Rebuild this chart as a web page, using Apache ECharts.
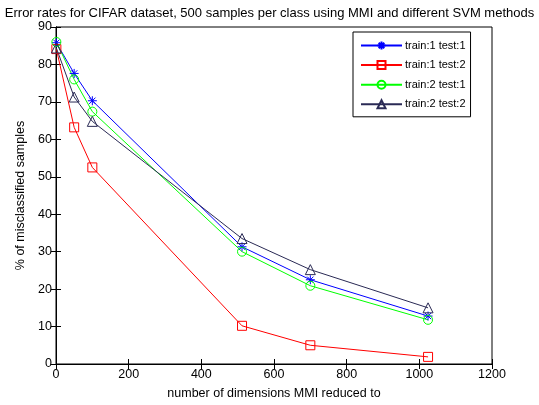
<!DOCTYPE html>
<html>
<head>
<meta charset="utf-8">
<script src="https://cdn.jsdelivr.net/npm/echarts@6/dist/echarts.min.js"></script>
<style>
  html, body { margin: 0; padding: 0; background: #fff; }
  #main { width: 539px; height: 405px; }
</style>
</head>
<body>
<div id="main"></div>
<script>
// dimensions after MMI reduction
const dims = [1, 50, 100, 512, 700, 1024]
// error rates (%)
const train1test1 = [85.8, 77.6, 70.3, 31.3, 22.5, 12.8]
const train1test2 = [84.1, 63.2, 52.5, 10.2, 5.0, 1.9]
const train2test1 = [86.0, 76.0, 67.4, 30.0, 20.9, 11.8]
const train2test2 = [84.4, 71.3, 64.8, 33.5, 25.2, 15.0]

const seriesNames = ['train:1 test:1', 'train:1 test:2', 'train:2 test:1', 'train:2 test:2']
const seriesColors = ['#0000ff', '#ff0000', '#00ff00', '#2a2a55']

// matlab style markers, outline only
const asterisk = 'path://M0,5L10,5M5,0L5,10M1.5,1.5L8.5,8.5M8.5,1.5L1.5,8.5'
const square = 'path://M0,0L10,0L10,10L0,10Z'
const circle = 'path://M10,5A5,5,0,1,1,0,5A5,5,0,1,1,10,5Z'
const triangle = 'path://M5,0L10,9L0,9Z'
const font = 'Liberation Sans, Arial, sans-serif'

function pairs(ys) {
  return dims.map((x, i) => [x, ys[i]])
}

function makeSeries(name, ys, color, symbol, size) {
  return {
    name: name,
    type: 'line',
    data: pairs(ys),
    symbol: symbol,
    symbolSize: size,
    showAllSymbol: true,
    lineStyle: { color: color, width: 1 },
    itemStyle: { color: 'rgba(0,0,0,0)', borderColor: color, borderWidth: 1 },
    emphasis: { disabled: true },
    z: 3
  }
}

const chart = echarts.init(document.getElementById('main'))

const tickStyle = {
  show: true,
  inside: true,
  length: 5,
  lineStyle: { color: '#000', width: 1 }
}

chart.setOption({
  animation: false,
  backgroundColor: '#fff',
  title: {
    text: 'Error rates for CIFAR dataset, 500 samples per class using MMI and different SVM methods',
    left: 'center',
    top: 2,
    textStyle: { fontFamily: font, fontSize: 13, fontWeight: 'normal', color: '#000' }
  },
  legend: {
    data: seriesNames,
    orient: 'vertical',
    left: 353,
    top: 32,
    itemWidth: 41,
    itemHeight: 10,
    itemGap: 8.6,
    padding: [8, 5, 7, 7],
    backgroundColor: '#fff',
    borderColor: '#000',
    borderWidth: 1,
    textStyle: { fontFamily: font, fontSize: 11, color: '#000', padding: [0, 0, 0, -2] }
  },
  grid: {
    left: 56,
    right: 47,
    top: 27,
    bottom: 35,
    show: true,
    borderColor: '#000',
    borderWidth: 1
  },
  xAxis: [
    {
      type: 'value',
      min: 0,
      max: 1200,
      interval: 200,
      name: 'number of dimensions MMI reduced to',
      nameLocation: 'middle',
      nameGap: 23,
      nameTextStyle: { fontFamily: font, fontSize: 12.5, color: '#000' },
      axisLine: { show: true, lineStyle: { color: '#000' } },
      axisTick: tickStyle,
      axisLabel: { fontFamily: font, fontSize: 12.5, color: '#000', margin: 4, formatter: v => String(v) },
      splitLine: { show: false }
    },
    {
      type: 'value',
      position: 'top',
      min: 0,
      max: 1200,
      interval: 200,
      axisLine: { show: true, lineStyle: { color: '#000' } },
      axisTick: tickStyle,
      axisLabel: { show: false },
      splitLine: { show: false }
    }
  ],
  yAxis: [
    {
      type: 'value',
      min: 0,
      max: 90,
      interval: 10,
      name: '% of misclassified samples',
      nameLocation: 'middle',
      nameGap: 28,
      nameTextStyle: { fontFamily: font, fontSize: 12.5, color: '#000' },
      axisLine: { show: true, lineStyle: { color: '#000' } },
      axisTick: tickStyle,
      axisLabel: { fontFamily: font, fontSize: 12.5, color: '#000', margin: 4 },
      splitLine: { show: false }
    },
    {
      type: 'value',
      position: 'right',
      min: 0,
      max: 90,
      interval: 10,
      axisLine: { show: true, lineStyle: { color: '#000' } },
      axisTick: tickStyle,
      axisLabel: { show: false },
      splitLine: { show: false }
    }
  ],
  series: [
    makeSeries(seriesNames[0], train1test1, seriesColors[0], asterisk, 9),
    makeSeries(seriesNames[1], train1test2, seriesColors[1], square, 9),
    makeSeries(seriesNames[2], train2test1, seriesColors[2], circle, 9),
    makeSeries(seriesNames[3], train2test2, seriesColors[3], triangle, 10)
  ]
})
</script>
</body>
</html>
